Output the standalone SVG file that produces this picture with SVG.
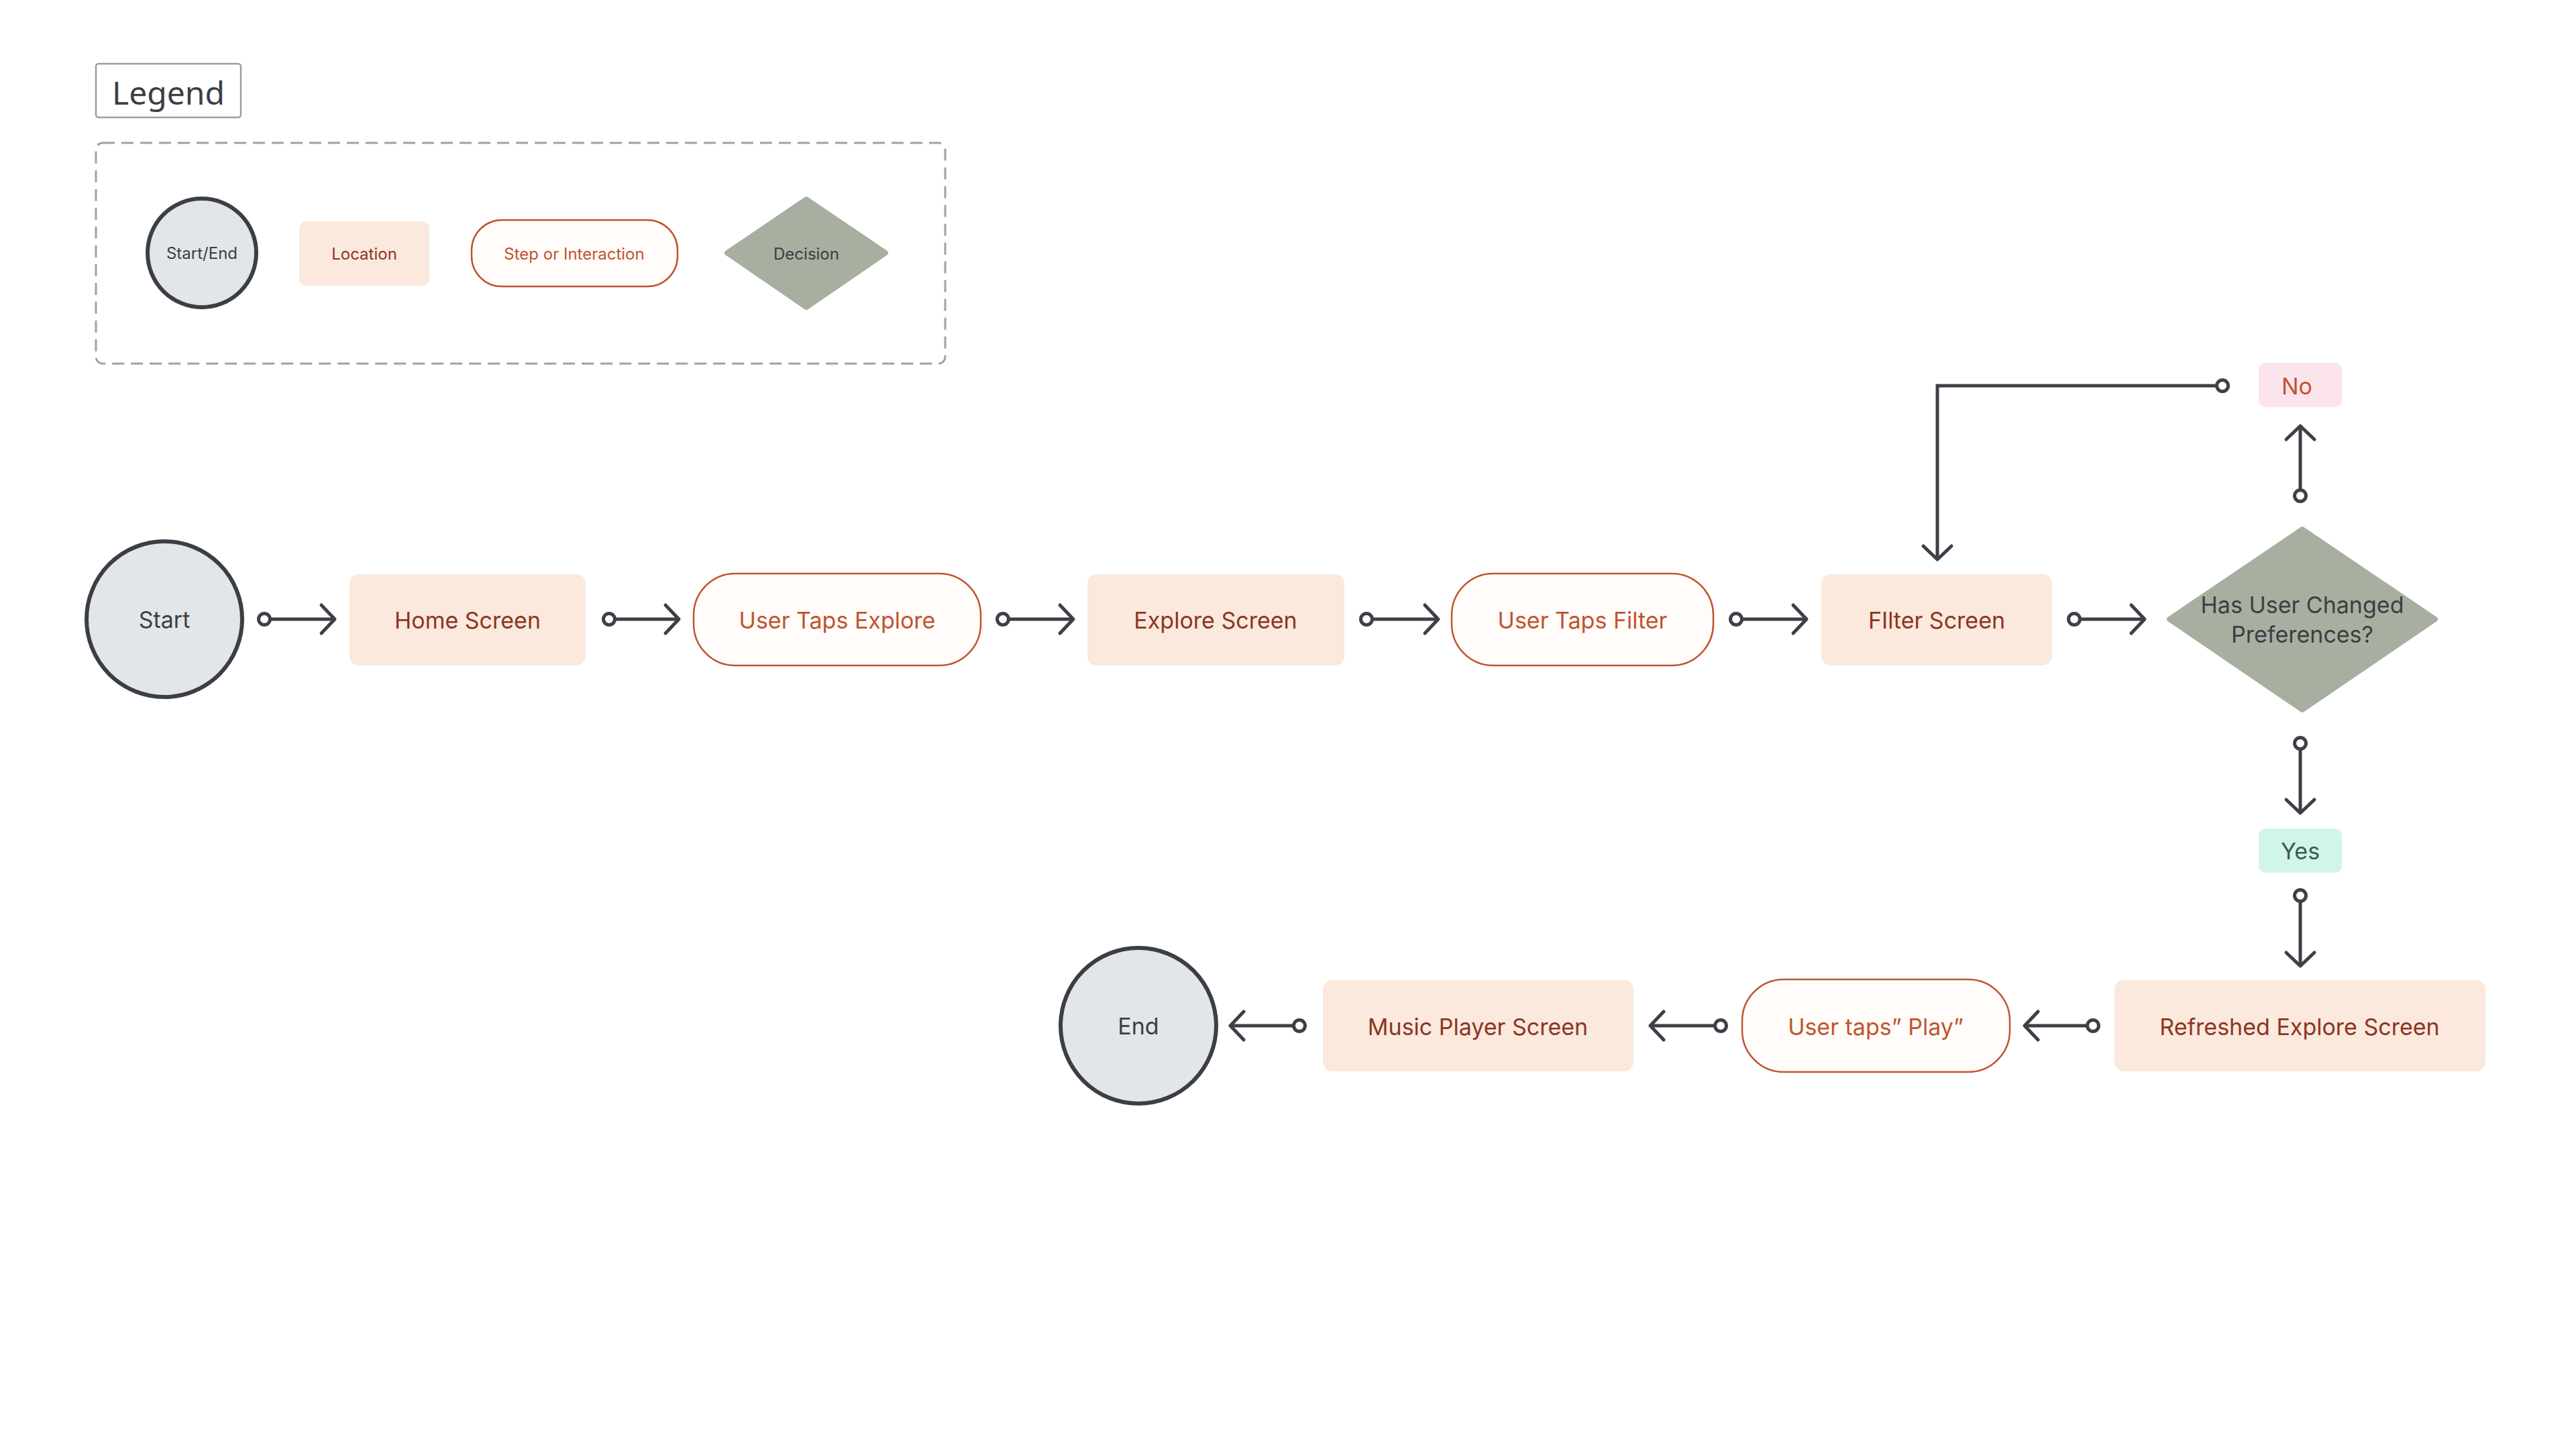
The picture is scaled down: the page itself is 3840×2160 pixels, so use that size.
<svg xmlns="http://www.w3.org/2000/svg" width="3840" height="2160" viewBox="0 0 3840 2160">
<defs>
<style>
.t{font-family:Inter,"Noto Sans","Liberation Sans",sans-serif;text-anchor:middle;dominant-baseline:central}
.loc{fill:#fae9dc}
.loct{fill:#8b3524;font-size:34px}
.step{fill:#fffcf9;stroke:#c0542f;stroke-width:2.5}
.stept{fill:#c0542f;font-size:34px}
.se{fill:#e2e6e9;stroke:#3b3e44;stroke-width:6}
.set{fill:#3b3e44;font-size:34px}
.dec{fill:#a7b0a0;stroke:#a7b0a0;stroke-width:8;stroke-linejoin:round}
.dect{fill:#3b3e44;font-size:34px}
.lg{font-size:24px}
.con{fill:none;stroke:#3d4047;stroke-width:5;marker-start:url(#dot);marker-end:url(#arr)}
</style>
<marker id="arr" viewBox="-26 -26 30 52" refX="0" refY="0" markerWidth="30" markerHeight="52" markerUnits="userSpaceOnUse" orient="auto">
<path d="M -20 -21 L 0 0 L -20 21" fill="none" stroke="#3d4047" stroke-width="5" stroke-linecap="round" stroke-linejoin="round"/>
</marker>
<marker id="dot" viewBox="-14 -14 28 28" refX="0" refY="0" markerWidth="28" markerHeight="28" markerUnits="userSpaceOnUse" orient="auto">
<circle cx="0" cy="0" r="8.5" fill="#ffffff" stroke="#3d4047" stroke-width="5"/>
</marker>
</defs>
<rect width="3840" height="2160" fill="#ffffff"/>

<g id="legend">
<rect x="143" y="95" width="216" height="80" rx="4" fill="#ffffff" stroke="#9a9da2" stroke-width="2.5"/>
<text x="251" y="137" style="font-family:'Noto Sans','Liberation Sans',sans-serif;font-size:48px;fill:#3b3e44;text-anchor:middle;dominant-baseline:central">Legend</text>
<rect x="143" y="213" width="1266" height="329" rx="10" fill="none" stroke="#9ea1a6" stroke-width="3" stroke-dasharray="18 10"/>
<g id="legend-startend">
<circle cx="301" cy="377" r="81" class="se" stroke-width="5"/>
<text x="301" y="377" class="t set lg">Start/End</text>
</g>
<g id="legend-location">
<rect x="446" y="330" width="194" height="96" rx="10" class="loc"/>
<text x="543" y="378" class="t loct lg">Location</text>
</g>
<g id="legend-step">
<rect x="703" y="328" width="307" height="99" rx="45" class="step"/>
<text x="856" y="378" class="t stept lg">Step or Interaction</text>
</g>
<g id="legend-decision">
<path d="M 1202 297 L 1320 377 L 1202 458 L 1084 377 Z" class="dec" stroke-width="6"/>
<text x="1202" y="378" class="t dect lg">Decision</text>
</g>
</g>

<g id="connectors">
<path class="con" d="M 394 923 H 499"/>
<path class="con" d="M 908 923 H 1012"/>
<path class="con" d="M 1495 923 H 1600"/>
<path class="con" d="M 2037 923 H 2144"/>
<path class="con" d="M 2588 923 H 2693"/>
<path class="con" d="M 3092 923 H 3197"/>
<path class="con" d="M 3429 739 V 635"/>
<path class="con" d="M 3313 575 H 2888 V 834"/>
<path class="con" d="M 3429 1108 V 1212"/>
<path class="con" d="M 3429 1335 V 1440"/>
<path class="con" d="M 3120 1529 H 3018"/>
<path class="con" d="M 2565 1529 H 2460"/>
<path class="con" d="M 1937 1529 H 1834"/>
</g>

<g id="start">
<circle cx="245" cy="923" r="116" class="se"/>
<text x="245" y="923" class="t set">Start</text>
</g>
<g id="home-screen">
<rect x="521" y="856" width="352" height="136" rx="14" class="loc"/>
<text x="697" y="924" class="t loct">Home Screen</text>
</g>
<g id="user-taps-explore">
<rect x="1034" y="855" width="428" height="137" rx="62" class="step"/>
<text x="1248" y="924" class="t stept">User Taps Explore</text>
</g>
<g id="explore-screen">
<rect x="1621" y="856" width="383" height="136" rx="14" class="loc"/>
<text x="1812" y="924" class="t loct">Explore Screen</text>
</g>
<g id="user-taps-filter">
<rect x="2164" y="855" width="390" height="137" rx="62" class="step"/>
<text x="2359" y="924" class="t stept">User Taps Filter</text>
</g>
<g id="filter-screen">
<rect x="2715" y="856" width="344" height="136" rx="14" class="loc"/>
<text x="2887" y="924" class="t loct">FIlter Screen</text>
</g>
<g id="decision">
<path d="M 3432 789 L 3630 923 L 3432 1058 L 3234 923 Z" class="dec" stroke-width="12"/>
<text x="3432" y="901" class="t dect">Has User Changed</text>
<text x="3432" y="945" class="t dect">Preferences?</text>
</g>
<g id="no">
<rect x="3367" y="541" width="124" height="66" rx="10" fill="#fce4ec"/>
<text x="3424" y="575" class="t" style="font-size:34px;fill:#c0542f">No</text>
</g>
<g id="yes">
<rect x="3367" y="1235" width="124" height="66" rx="10" fill="#d2f5e9"/>
<text x="3429" y="1268" class="t" style="font-size:34px;fill:#3f5a50">Yes</text>
</g>
<g id="refreshed-explore-screen">
<rect x="3152" y="1461" width="553" height="136" rx="14" class="loc"/>
<text x="3428" y="1530" class="t loct">Refreshed Explore Screen</text>
</g>
<g id="user-taps-play">
<rect x="2597" y="1460" width="399" height="138" rx="62" class="step"/>
<text x="2796" y="1530" class="t stept">User taps” Play”</text>
</g>
<g id="music-player-screen">
<rect x="1972" y="1461" width="463" height="136" rx="14" class="loc"/>
<text x="2203" y="1530" class="t loct">Music Player Screen</text>
</g>
<g id="end">
<circle cx="1697" cy="1529" r="116" class="se"/>
<text x="1697" y="1529" class="t set">End</text>
</g>
</svg>
